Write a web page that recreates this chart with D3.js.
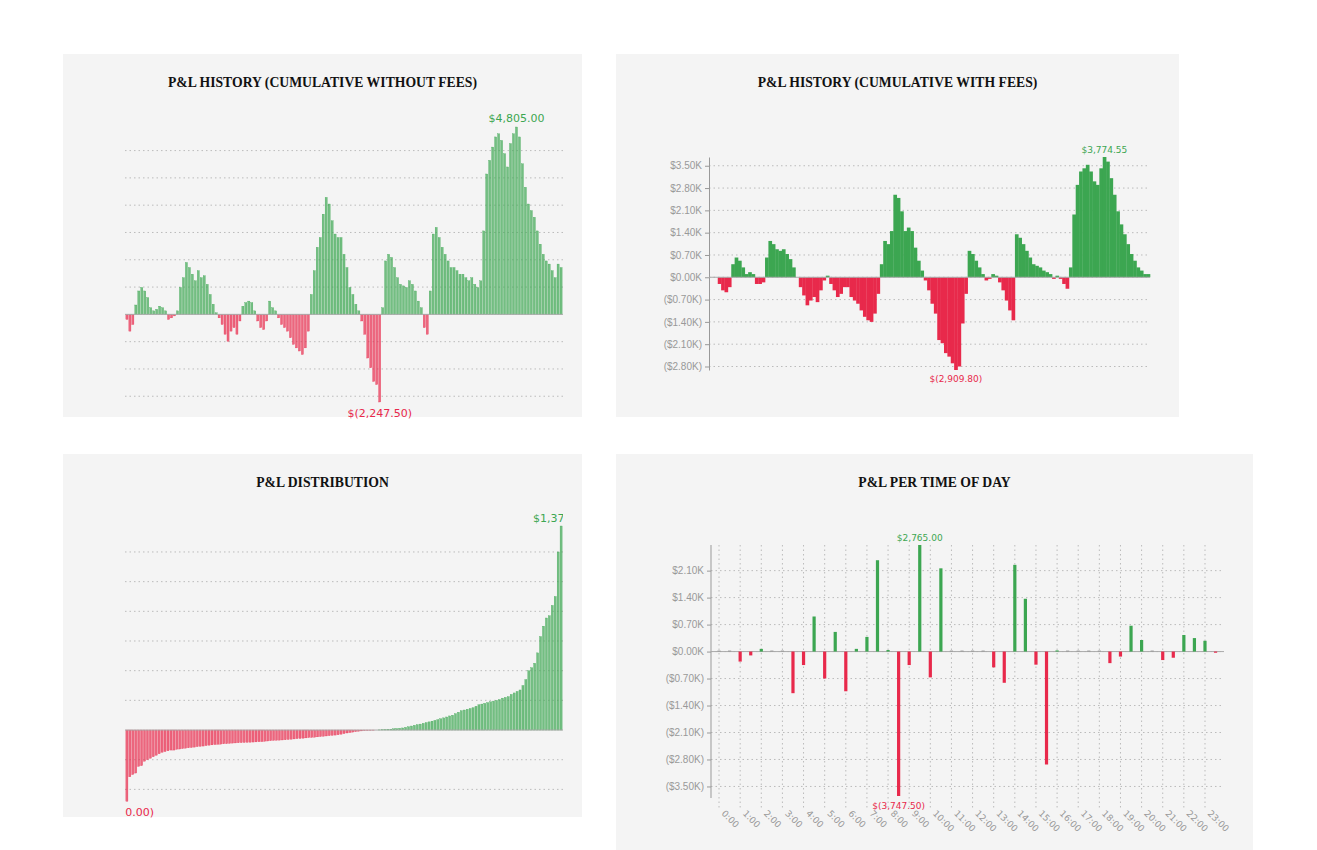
<!DOCTYPE html>
<html><head><meta charset="utf-8">
<script src="https://cdn.jsdelivr.net/npm/d3@7"></script>
<style>
body{margin:0;background:#fff;font-family:"DejaVu Sans",sans-serif;}
.title{font-family:"Liberation Serif",serif;font-weight:bold;font-size:13.7px;fill:#111;}
.grid line{stroke:#bbb;stroke-dasharray:1.5,3;}
.axis text{fill:#999;font-size:10px;}
.axis path,.axis line{stroke:#999;}
</style></head>
<body><svg id="chart" width="1317" height="850"></svg>
<script>
var cumNoFees = [-130,-430,-260,240,600,690,600,430,170,90,130,210,170,90,-130,-90,-40,
90,690,940,1330,1200,1030,860,1120,940,990,770,510,260,40,
-90,-260,-510,-690,-430,-340,-510,-170,210,300,340,300,90,
-170,-340,-390,-170,340,170,90,
-90,-260,-340,-430,-600,-770,-860,-940,-1030,-860,-430,
510,1120,1720,1970,2570,3000,2830,2400,2060,1970,1970,1540,1200,690,510,260,90,
-170,-510,-1120,-1370,-1720,-1800,-2247.5,
170,1370,1540,1460,1200,940,770,730,690,860,770,600,340,170,
-340,-510,
600,2060,2230,1970,1720,1540,1370,1200,1200,1120,1030,1030,940,860,940,770,690,
860,2140,3600,3950,4290,4550,4630,4460,4120,3780,4380,4630,4805,4550,3860,3260,2830,2660,2490,2140,1800,1540,1370,1290,1120,940,1290,1200];

var cumWithFees = [0,0,-210,-410,-470,-310,410,620,520,310,100,160,100,-210,-210,-160,
620,1140,1040,880,830,880,730,570,310,0,
-310,-570,-880,-730,-620,-780,-410,-100,50,
-210,-410,-620,-520,-310,
-310,-620,-730,-830,-1040,-1240,-1350,-1400,-1140,-520,
410,1140,1040,1450,2590,2490,2070,1450,1560,1450,930,520,210,
-100,-410,-830,-1140,-1970,-2070,-2380,-2490,-2700,-2909.8,-2800,-1450,-520,
830,730,520,310,100,-100,-50,100,50,
-160,-410,-730,-1040,-1350,
1350,1240,1040,830,620,410,360,310,210,160,100,-50,50,-50,-210,-360,
310,1970,2900,3320,3420,3530,3320,3010,2900,3420,3774.55,3630,3110,2590,2070,1660,1350,1040,730,520,310,210,100,100];

var distribution = [-480,-315,-300,-290,-245,-240,-210,-200,-190,-180,-170,-160,-150,-145,-140,
-135,-135,-130,-128,-125,-122,-120,-118,-115,-112,-110,-108,-105,-102,-100,-98,-96,-95,-93,
-92,-90,-88,-87,-86,-85,-84,-83,-82,-81,-80,-79,-78,-76,-74,-72,-70,-69,-68,-67,-66,-64,-62,-60,-58,-57,
-55,-53,-51,-50,-48,-46,-44,-42,-40,-38,-36,-34,-32,-28,-24,-20,-17,-14,-11,-8,-6,-4,-3,-2,-1,0,
1,2,3,5,6,8,10,12,14,18,22,27,32,36,40,45,50,55,60,65,70,76,82,88,95,100,110,120,
130,135,140,145,150,160,170,175,180,185,190,195,200,205,215,220,225,240,250,260,
270,300,340,400,420,450,520,630,700,755,770,840,900,1200,1375];

var timeSlots = [];
for (var h = 0; h < 24; h++) { timeSlots.push(h + ":00"); timeSlots.push(h + ":30"); }
var hourLabels = timeSlots.filter((d, i) => i % 2 == 0);
var timeValues = [0,0,-260,-100,70,0,0,-1080,-350,910,-700,510,-1030,70,380,2370,40,-3747.5,-350,2765,-670,2160,
0,0,0,0,-410,-810,2250,1370,-340,-2930,30,0,0,0,0,-300,-130,670,300,0,-220,-160,430,350,280,-30];

var GREEN = "#3ca651", RED = "#e8294b";
var svg = d3.select("#chart");

function money(v) {
    var f = d3.format(",.2f");
    return v < 0 ? "$(" + f(-v) + ")" : "$" + f(v);
}
function kfmt(v) {
    var s = (Math.abs(v) / 1000).toFixed(2) + "K";
    return v < 0 ? "($" + s + ")" : "$" + s;
}

function panel(x, y, w, h, title) {
    svg.append("rect").attr("x", x).attr("y", y).attr("width", w).attr("height", h).attr("fill", "#f4f4f4");
    svg.append("text").attr("class", "title").attr("x", x + w / 2).attr("y", y + 33)
        .attr("text-anchor", "middle").text(title);
}

function extremes(g, data, x, y, fs, topY, botY) {
    var iMax = d3.maxIndex(data), iMin = d3.minIndex(data);
    var cx = i => x(i) + x.bandwidth() / 2;
    g.append("text").attr("x", cx(iMax)).attr("y", topY).attr("text-anchor", "middle")
        .attr("fill", GREEN).style("font-size", fs + "px").text(money(data[iMax]));
    g.append("text").attr("x", cx(iMin)).attr("y", botY).attr("text-anchor", "middle")
        .attr("fill", RED).style("font-size", fs + "px").text(money(data[iMin]));
}

// plain bar chart without axis labels (left panels)
function plainBars(clipId, data, x0, x1, yDom, yRange, step, topY, botY) {
    svg.append("clipPath").attr("id", clipId).append("rect")
        .attr("x", x0).attr("y", 0).attr("width", x1 - x0).attr("height", 850);
    var g = svg.append("g").attr("clip-path", "url(#" + clipId + ")");
    var x = d3.scaleBand().domain(d3.range(data.length)).range([x0, x1]).padding(0.3);
    var y = d3.scaleLinear().domain(yDom).range(yRange);
    var ticks = d3.range(Math.ceil(yDom[0] / step) * step, yDom[1], step).filter(t => t != 0);
    g.append("g").attr("class", "grid").selectAll("line").data(ticks).enter().append("line")
        .attr("x1", x0).attr("x2", x1).attr("y1", d => y(d)).attr("y2", d => y(d));
    g.selectAll(".bar").data(data).enter().append("rect")
        .attr("x", (d, i) => x(i)).attr("width", x.bandwidth())
        .attr("y", d => y(Math.max(0, d))).attr("height", d => Math.abs(y(d) - y(0)))
        .attr("fill", d => d >= 0 ? GREEN : RED).attr("fill-opacity", 0.7)
        .attr("stroke", d => d >= 0 ? GREEN : RED).attr("stroke-width", 0.3);
    g.append("line").attr("x1", x0).attr("x2", x1).attr("y1", y(0)).attr("y2", y(0)).attr("stroke", "#aaa");
    extremes(g, data, x, y, 11, topY, botY);
}

panel(63, 54, 519, 363, "P&L HISTORY (CUMULATIVE WITHOUT FEES)");
plainBars("c1", cumNoFees, 125, 563, [-2247.5, 4805], [402, 127], 700, 122, 417);

panel(63, 454, 519, 363, "P&L DISTRIBUTION");
plainBars("c3", distribution, 125, 563, [-485, 1375], [802, 526], 200, 522, 816);

// cumulative with fees
panel(616, 54, 563, 363, "P&L HISTORY (CUMULATIVE WITH FEES)");
(function () {
    var g = svg.append("g");
    var x = d3.scaleBand().domain(d3.range(cumWithFees.length)).range([711, 1150]).padding(0);
    var y = d3.scaleLinear().domain([-2909.8, 3774.55]).range([370, 157]);
    var ticks = d3.range(-2800, 3600, 700);
    g.append("g").attr("class", "grid").selectAll("line").data(ticks).enter().append("line")
        .attr("x1", 709).attr("x2", 1150).attr("y1", d => y(d)).attr("y2", d => y(d));
    g.append("g").attr("class", "axis").attr("transform", "translate(709,0)")
        .call(d3.axisLeft(y).tickValues(ticks).tickFormat(kfmt).tickSize(4).tickSizeOuter(0));
    g.selectAll(".bar").data(cumWithFees).enter().append("rect")
        .attr("x", (d, i) => x(i)).attr("width", x.bandwidth() + 0.3)
        .attr("y", d => y(Math.max(0, d))).attr("height", d => Math.abs(y(d) - y(0)))
        .attr("fill", d => d >= 0 ? GREEN : RED);
    g.append("line").attr("x1", 709).attr("x2", 1150).attr("y1", y(0)).attr("y2", y(0)).attr("stroke", "#aaa");
    extremes(g, cumWithFees, x, y, 9, 153, 382);
})();

// time of day
panel(616, 454, 637, 396, "P&L PER TIME OF DAY");
(function () {
    var g = svg.append("g");
    var x = d3.scaleLinear().domain([-0.76, 47.8]).range([711, 1224]);
    var y = d3.scaleLinear().domain([-3747.5, 2765]).range([796, 545]);
    var ticks = d3.range(-3500, 2200, 700);
    g.append("g").attr("class", "grid").selectAll("line").data(ticks).enter().append("line")
        .attr("x1", 711).attr("x2", 1224).attr("y1", d => y(d)).attr("y2", d => y(d));
    g.append("g").attr("class", "grid").selectAll("line").data(hourLabels).enter().append("line")
        .attr("x1", (d, i) => x(i * 2)).attr("x2", (d, i) => x(i * 2)).attr("y1", 545).attr("y2", 808);
    g.append("g").attr("class", "axis").attr("transform", "translate(711,0)")
        .call(d3.axisLeft(y).tickValues(ticks).tickFormat(kfmt).tickSize(4).tickSizeOuter(0))
        .select(".domain").attr("d", "M0,545V798");
    g.append("line").attr("x1", 711).attr("x2", 1224).attr("y1", y(0)).attr("y2", y(0)).attr("stroke", "#aaa");
    g.selectAll(".bar").data(timeValues).enter().append("rect")
        .attr("x", (d, i) => x(i) - 1.6).attr("width", 3.2)
        .attr("y", d => d == 0 ? y(0) - 1 : y(Math.max(0, d)))
        .attr("height", d => d == 0 ? 1 : Math.abs(y(d) - y(0)))
        .attr("fill", d => d > 0 ? GREEN : d < 0 ? RED : "#999");
    g.selectAll(".xl").data(hourLabels).enter().append("text")
        .attr("transform", (d, i) => "translate(" + (x(i * 2) + 2) + ",814) rotate(45)")
        .attr("fill", "#999").style("font-size", "9px").text(d => d);
    var iMax = d3.maxIndex(timeValues), iMin = d3.minIndex(timeValues);
    g.append("text").attr("x", x(iMax)).attr("y", 541).attr("text-anchor", "middle")
        .attr("fill", GREEN).style("font-size", "9px").text(money(timeValues[iMax]));
    g.append("text").attr("x", x(iMin)).attr("y", 809).attr("text-anchor", "middle")
        .attr("fill", RED).style("font-size", "9px").text(money(timeValues[iMin]));
})();
</script></body></html>
